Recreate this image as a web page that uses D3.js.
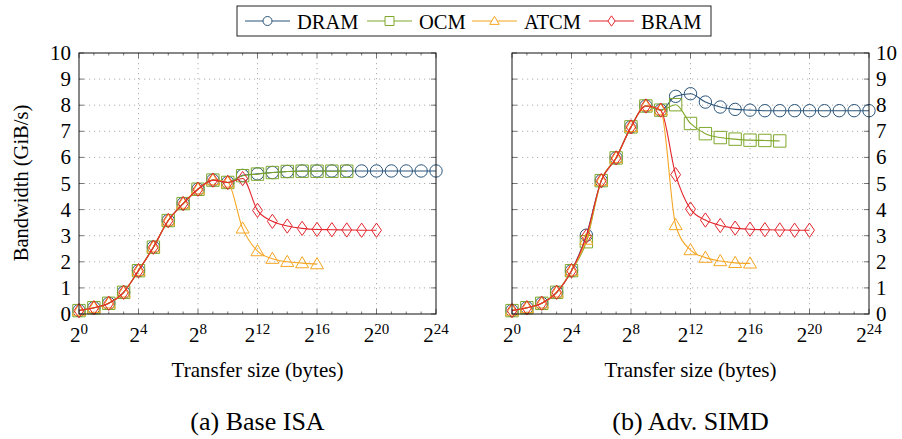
<!DOCTYPE html>
<html>
<head>
<meta charset="utf-8">
<script src="https://cdn.jsdelivr.net/npm/d3@7"></script>
<style>
  body { margin: 0; background: #fff; }
  svg { display: block; }
  text { font-family: "Liberation Serif", "DejaVu Serif", serif; }
</style>
</head>
<body>
<svg id="chart" width="902" height="439" font-family="Liberation Serif"></svg>
<script>
// transfer size exponents (2^n bytes)
const sizeExp = [0,1,2,3,4,5,6,7,8,9,10,11,12,13,14,15,16,17,18,19,20,21,22,23,24];
const xTicks = [0,4,8,12,16,20,24];
const yTicks = [0,1,2,3,4,5,6,7,8,9,10];

const seriesNames = ['DRAM', 'OCM', 'ATCM', 'BRAM'];
const seriesColors = ['#2b557a', '#7fa82c', '#f5a623', '#e3262e'];
const seriesMarks = ['circle', 'square', 'triangle', 'diamond'];

// (a) Base ISA, GiB/s
const baseDram = [0.13,0.24,0.41,0.83,1.66,2.56,3.58,4.23,4.78,5.13,5.04,5.31,5.37,5.42,5.46,5.48,5.48,5.48,5.48,5.48,5.48,5.48,5.48,5.48,5.48];
const baseOcm  = [0.13,0.24,0.41,0.83,1.66,2.56,3.58,4.23,4.78,5.13,5.04,5.30,5.36,5.42,5.46,5.47,5.47,5.47,5.47];
const baseAtcm = [0.13,0.24,0.41,0.83,1.66,2.56,3.58,4.23,4.78,5.13,5.04,3.28,2.41,2.12,2.00,1.95,1.91];
const baseBram = [0.13,0.24,0.41,0.83,1.66,2.56,3.58,4.23,4.78,5.13,5.04,5.19,3.97,3.55,3.37,3.28,3.24,3.23,3.22,3.21,3.21];

// (b) Adv. SIMD, GiB/s
const simdDram = [0.13,0.24,0.41,0.83,1.66,3.02,5.11,5.98,7.17,7.97,7.81,8.34,8.44,8.12,7.93,7.84,7.81,7.79,7.79,7.79,7.79,7.79,7.79,7.79,7.79];
const simdOcm  = [0.13,0.24,0.41,0.83,1.66,2.77,5.11,5.98,7.17,7.97,7.81,8.02,7.30,6.91,6.76,6.70,6.66,6.65,6.63];
const simdAtcm = [0.13,0.24,0.41,0.83,1.66,2.85,5.11,5.98,7.17,7.97,7.81,3.41,2.45,2.16,2.03,1.96,1.94];
const simdBram = [0.13,0.24,0.41,0.83,1.66,2.98,5.11,5.98,7.17,7.97,7.81,5.34,4.02,3.60,3.39,3.29,3.25,3.23,3.22,3.21,3.21];

const svg = d3.select('#chart');
const plotTop = 53, plotBottom = 314;

function markPath(type, s) {
    if (type === 'circle') return d3.symbol(d3.symbolCircle, Math.PI * s * s)();
    if (type === 'square') return `M${-s},${-s}H${s}V${s}H${-s}Z`;
    if (type === 'triangle') return `M0,${-s * 1.05}L${s * 1.05},${s * 0.75}L${-s * 1.05},${s * 0.75}Z`;
    return `M0,${-s * 1.15}L${s * 0.8},0L0,${s * 1.15}L${-s * 0.8},0Z`;
}

function drawPanel(left, right, data, labelSide, caption) {
    const x = d3.scaleLinear().domain([0, 24]).range([left, right]);
    const y = d3.scaleLinear().domain([0, 10]).range([plotBottom, plotTop]);
    const g = svg.append('g');

    // dotted grid
    g.selectAll('.gx').data(xTicks.slice(1, -1)).join('line')
        .attr('x1', d => x(d)).attr('x2', d => x(d))
        .attr('y1', plotTop).attr('y2', plotBottom)
        .attr('stroke', '#9a9a9a').attr('stroke-width', 0.8)
        .attr('stroke-dasharray', '1.2,3.8');
    g.selectAll('.gy').data(yTicks.slice(1, -1)).join('line')
        .attr('x1', left).attr('x2', right)
        .attr('y1', d => y(d)).attr('y2', d => y(d))
        .attr('stroke', '#9a9a9a').attr('stroke-width', 0.8)
        .attr('stroke-dasharray', '1.2,3.8');

    // inward ticks on all sides
    const tickCol = '#555';
    g.selectAll('.mx').data(sizeExp).join('line')
        .attr('x1', d => x(d)).attr('x2', d => x(d))
        .attr('y1', plotBottom).attr('y2', d => plotBottom - (d % 4 === 0 ? 5 : 2.5))
        .attr('stroke', tickCol).attr('stroke-width', 0.8);
    g.selectAll('.mxt').data(sizeExp).join('line')
        .attr('x1', d => x(d)).attr('x2', d => x(d))
        .attr('y1', plotTop).attr('y2', d => plotTop + (d % 4 === 0 ? 5 : 2.5))
        .attr('stroke', tickCol).attr('stroke-width', 0.8);
    g.selectAll('.ty').data(yTicks).join('line')
        .attr('x1', left).attr('x2', left + 5)
        .attr('y1', d => y(d)).attr('y2', d => y(d))
        .attr('stroke', tickCol).attr('stroke-width', 0.8);
    g.selectAll('.tyr').data(yTicks).join('line')
        .attr('x1', right).attr('x2', right - 5)
        .attr('y1', d => y(d)).attr('y2', d => y(d))
        .attr('stroke', tickCol).attr('stroke-width', 0.8);

    // series lines and marks
    const line = d3.line()
        .x((d, i) => x(sizeExp[i]))
        .y(d => y(d))
        .curve(d3.curveMonotoneX);

    data.forEach((vals, k) => {
        g.append('path')
            .attr('d', line(vals))
            .attr('fill', 'none')
            .attr('stroke', seriesColors[k])
            .attr('stroke-width', 1.1);
        g.selectAll('.m' + k).data(vals).join('path')
            .attr('transform', (d, i) => `translate(${x(sizeExp[i])},${y(d)})`)
            .attr('d', markPath(seriesMarks[k], 6.2))
            .attr('fill', 'none')
            .attr('stroke', seriesColors[k])
            .attr('stroke-width', 1);
    });

    // frame
    g.append('rect')
        .attr('x', left).attr('y', plotTop)
        .attr('width', right - left).attr('height', plotBottom - plotTop)
        .attr('fill', 'none').attr('stroke', '#111').attr('stroke-width', 1);

    // y tick labels
    g.selectAll('.yl').data(yTicks).join('text')
        .attr('x', labelSide === 'left' ? left - 8 : right + 7)
        .attr('y', d => y(d) + 7)
        .attr('text-anchor', labelSide === 'left' ? 'end' : 'start')
        .attr('font-size', 21)
        .text(d => d);

    // x tick labels 2^n
    const xl = g.selectAll('.xl').data(xTicks).join('text')
        .attr('x', d => x(d))
        .attr('y', 342)
        .attr('text-anchor', 'middle')
        .attr('font-size', 21);
    xl.append('tspan').text('2');
    xl.append('tspan').attr('dy', -8).attr('font-size', 15).text(d => d);

    g.append('text')
        .attr('x', (left + right) / 2).attr('y', 377)
        .attr('text-anchor', 'middle').attr('font-size', 21)
        .text('Transfer size (bytes)');

    g.append('text')
        .attr('x', (left + right) / 2).attr('y', 430)
        .attr('text-anchor', 'middle').attr('font-size', 26)
        .text(caption);
}

drawPanel(79, 436, [baseDram, baseOcm, baseAtcm, baseBram], 'left', '(a) Base ISA');
drawPanel(512, 869, [simdDram, simdOcm, simdAtcm, simdBram], 'right', '(b) Adv. SIMD');

// y axis title
svg.append('text')
    .attr('transform', 'translate(28,183) rotate(-90)')
    .attr('text-anchor', 'middle')
    .attr('font-size', 20.5)
    .text('Bandwidth (GiB/s)');

// legend
const legend = svg.append('g');
legend.append('rect')
    .attr('x', 237).attr('y', 6).attr('width', 474).attr('height', 30)
    .attr('fill', '#fff').attr('stroke', '#222').attr('stroke-width', 1);
const legX = [245, 367, 472, 589];
seriesNames.forEach((name, k) => {
    const lx = legX[k];
    legend.append('line')
        .attr('x1', lx).attr('x2', lx + 45)
        .attr('y1', 21).attr('y2', 21)
        .attr('stroke', seriesColors[k]).attr('stroke-width', 1.1);
    legend.append('path')
        .attr('transform', `translate(${lx + 22.5},21)`)
        .attr('d', markPath(seriesMarks[k], 4.5))
        .attr('fill', '#fff')
        .attr('stroke', seriesColors[k]).attr('stroke-width', 1);
    legend.append('text')
        .attr('x', lx + 52).attr('y', 29)
        .attr('font-size', 20.5)
        .text(name);
});
</script>
</body>
</html>
